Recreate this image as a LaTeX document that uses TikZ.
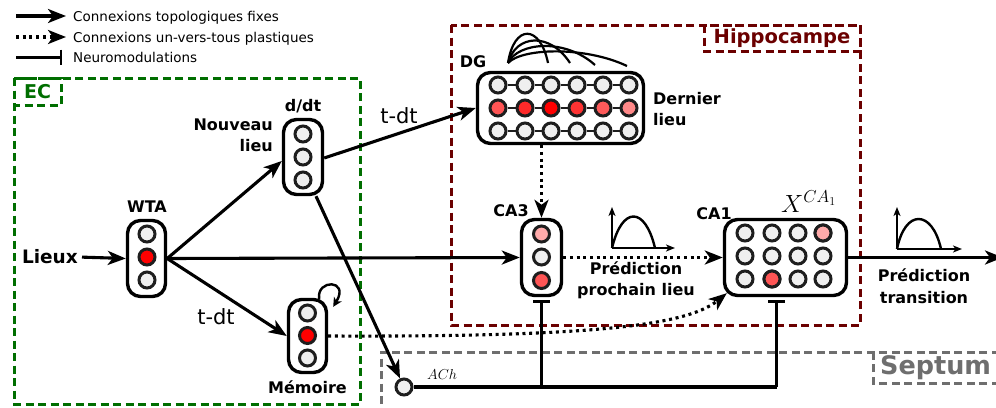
\documentclass[tikz,border=0pt]{standalone}
\usepackage{fontspec}
\setmainfont{DejaVu Sans}
\usetikzlibrary{arrows.meta,calc}
\definecolor{cgray}{HTML}{EFEFEF}
\definecolor{cedge}{HTML}{1E1E1E}
\definecolor{hipred}{HTML}{6B0000}
\definecolor{ecgreen}{HTML}{006E00}
\definecolor{septgray}{HTML}{6E6E6E}
\definecolor{rA}{HTML}{FF5555}
\definecolor{rB}{HTML}{FF2A2A}
\definecolor{rC}{HTML}{FF0000}
\definecolor{rD}{HTML}{FF3333}
\definecolor{rE}{HTML}{FF5A5A}
\definecolor{rF}{HTML}{FF8888}
\definecolor{pinkc}{HTML}{FFAAAA}
\tikzset{
  cell/.style={circle, draw=cedge, line width=3pt, fill=cgray, minimum size=16pt, inner sep=0pt},
  layer/.style={draw=black, line width=3.4pt, rounded corners=13pt, fill=white, inner sep=0pt},
  conn/.style={line width=3.1pt, -{Stealth[length=18pt,width=14pt,inset=5pt]}},
  plast/.style={line width=3.1pt, dash pattern=on 3pt off 3.7pt, -{Stealth[length=18pt,width=14pt,inset=5pt]}},
  modl/.style={line width=3.1pt, -{Bar[width=17pt,line width=3pt]}},
  plain/.style={line width=3.1pt},
  lab/.style={font=\fontsize{16}{21.5}\selectfont\bfseries, inner sep=0pt},
  legtxt/.style={font=\fontsize{13.5}{16}\selectfont, inner sep=0pt, anchor=base west},
  tdt/.style={font=\fontsize{21}{24}\selectfont, inner sep=0pt},
  regbox/.style={line width=3pt, dash pattern=on 8pt off 4.5pt},
  axisln/.style={line width=2.2pt, -{Stealth[length=9pt,width=7pt,inset=2.5pt]}},
  bump/.style={line width=2.4pt},
  dgarc/.style={line width=2.2pt},
}
\begin{document}
\begin{tikzpicture}[x=1pt,y=-1pt]
\useasboundingbox (0,0) rectangle (996,407);

% ---------- legend ----------
\coordinate (la1) at (16,16);  \coordinate (lb1) at (66,16);
\coordinate (la2) at (16,37);  \coordinate (lb2) at (66,37);
\coordinate (la3) at (16,57);  \coordinate (lb3) at (62,57);
\draw[conn] (la1) -- (lb1);
\draw[plast] (la2) -- (lb2);
\draw[line width=3pt, -{Bar[width=15pt,line width=2pt]}] (la3) -- (lb3);
\node[legtxt] (lt1) at (73,21) {Connexions topologiques fixes};
\node[legtxt] (lt2) at (73,42) {Connexions un-vers-tous plastiques};
\node[legtxt] (lt3) at (73,62) {Neuromodulations};

% ---------- region boxes ----------
\draw[regbox, ecgreen] (14,78) rectangle (360,404);
\draw[regbox, ecgreen] (14,78) rectangle (61,105);
\node[font=\fontsize{19}{22}\selectfont\bfseries, text=ecgreen, inner sep=0pt] (eclab) at (37.5,92) {EC};

\draw[regbox, hipred] (451,25) rectangle (860,325);
\draw[regbox, hipred] (704,25) rectangle (860,51);
\node[font=\fontsize{19.5}{22}\selectfont\bfseries, text=hipred, inner sep=0pt] (hiplab) at (782,38) {Hippocampe};

\draw[regbox, septgray] (1012,352) -- (381,352) -- (381,412);
\draw[regbox, septgray] (1012,383) -- (873,383) -- (873,352);
\node[font=\fontsize{25.5}{28}\selectfont\bfseries, text=septgray, inner sep=0pt, anchor=west] (seplab) at (880,368) {Septum};

% ---------- layers ----------
\node[layer, minimum width=38pt, minimum height=76pt] (wta) at (146.5,258.5) {};
\node[cell] (w1) at (147,234) {};
\node[cell, fill=rC] (w2) at (147,257) {};
\node[cell] (w3) at (147,280) {};

\node[layer, minimum width=39pt, minimum height=75pt] (ddt) at (303,157) {};
\node[cell] (d1) at (303,134) {};
\node[cell] (d2) at (303,157) {};
\node[cell] (d3) at (303,180) {};

\node[layer, minimum width=38pt, minimum height=73pt] (mem) at (307.5,336) {};
\node[cell] (m1) at (307.5,313) {};
\node[cell, fill=rC] (m2) at (307.5,335.5) {};
\node[cell] (m3) at (307.5,358) {};

\node[layer, minimum width=40pt, minimum height=76pt] (ca3) at (541.5,257.5) {};
\node[cell, fill=pinkc] (c31) at (541.5,234) {};
\node[cell] (c32) at (541.5,257) {};
\node[cell, fill=rA] (c33) at (541.5,280.5) {};

\node[layer, minimum width=122pt, minimum height=76pt] (ca1) at (785.5,257.5) {};
\foreach \x [count=\i] in {745,772,798,823} {
  \node[cell] (ca1a\i) at (\x,233) {};
  \node[cell] (ca1b\i) at (\x,256) {};
  \node[cell] (ca1c\i) at (\x,279) {};
}
\node[cell, fill=pinkc] at (ca1a4) {};
\node[cell, fill=rA] at (ca1c2) {};

\node[layer, minimum width=166pt, minimum height=71pt] (dg) at (560.5,108) {};
\foreach \x/\c [count=\i] in {498/rA,525/rB,551/rC,577/rD,603/rE,629/rF} {
  \node[cell] (dga\i) at (\x,85) {};
  \node[cell, fill=\c] (dgb\i) at (\x,108) {};
  \node[cell] (dgc\i) at (\x,131) {};
}
\foreach \i [evaluate=\i as \j using int(\i+1)] in {1,...,5} {
  \draw[line width=1.4pt, cedge] (dga\i) -- (dga\j);
  \draw[line width=1.4pt, cedge] (dgb\i) -- (dgb\j);
  \draw[line width=1.4pt, cedge] (dgc\i) -- (dgc\j);
}
% DG recurrent arcs
\coordinate (dgs) at (508,63);
\coordinate (dge1) at (548,63);
\coordinate (dge2) at (570,63);
\coordinate (dge3) at (595,65);
\coordinate (dge4) at (627,66);
\draw[dgarc] (dgs) .. controls (514,24) and (540,24) .. (dge1);
\draw[dgarc] (dgs) .. controls (516,34) and (550,32) .. (dge2);
\draw[dgarc] (dgs) .. controls (518,42) and (565,38) .. (dge3);
\draw[dgarc] (dgs) .. controls (522,48) and (585,46) .. (dge4);

\node[cell] (ach) at (404,387) {};

% ---------- labels ----------
\node[lab] (wtal) at (147,207) {WTA};
\node[lab] (ddtl) at (303,106) {d/dt};
\node[lab, align=right, anchor=east] (nouv) at (273,135.5) {Nouveau\\lieu};
\node[lab] (meml) at (307.5,387) {Mémoire};
\node[lab] (dgl) at (473,62) {DG};
\node[lab, align=left, anchor=west] (dern) at (653,109) {Dernier\\lieu};
\node[lab] (ca3l) at (511,211) {CA3};
\node[lab] (ca1l) at (714,214) {CA1};
\node[inner sep=0pt, anchor=base west, font=\fontsize{24}{26}\selectfont] (xca) at (781,212) {$X^{CA_1}$};
\node[lab, align=center] (predl) at (636,280.5) {Prédiction\\prochain lieu};
\node[lab, align=center] (predt) at (924,286) {Prédiction\\transition};
\node[font=\fontsize{18.5}{20}\selectfont\bfseries, inner sep=0pt, anchor=east] (lieux) at (78,257) {Lieux};
\node[tdt] (tdt1) at (399,116) {t-dt};
\node[tdt] (tdt2) at (216,317) {t-dt};
\node[inner sep=0pt, anchor=base west, font=\fontsize{15}{17}\selectfont] (achl) at (427,379) {$ACh$};

% ---------- connectors ----------
\draw[conn, shorten <=4pt] (lieux.east) -- (wta.west);
\draw[conn] (wta.east) -- ($(ddt.west)+(0,4)$);
\draw[conn] (wta.east) -- (mem.west);
\draw[conn] (wta.east) -- (ca3.west);
\draw[conn] ($(ddt.east)+(0,1)$) -- (dg.west);
\draw[conn] ($(ddt.south)+(13,0)$) -- (ach);
\draw[plast] (ca3.north |- dg.south) -- (ca3.north);
\draw[plast] (ca3.east) -- (ca1.west);
\draw[plast] (mem.east) .. controls (580,337) and (685,327) .. ($(ca1.south west)+(4,-4)$);
\coordinate (outp) at (1003,257.5);
\draw[conn] (ca1.east) -- (outp);
% self loop on memory
\draw[line width=2.4pt, -{Stealth[length=9pt,width=9pt,inset=2.5pt]}]
  ($(mem.north east)+(-9,1)$) .. controls (316,279) and (350,279) .. ($(mem.north east)+(5,9)$);

% neuromodulation
\coordinate (ca1m) at ($(ca1.south)+(-9,0)$);
\draw[plain] (ach) -- (ca1m |- ach);
\draw[modl, shorten >=3pt] (ca3.south |- ach) -- (ca3.south);
\draw[modl, shorten >=3pt] (ca1m |- ach) -- (ca1m);

% ---------- activity curves ----------
\coordinate (g1o) at (612,248);
\draw[axisln] (g1o) -- (612,207);
\draw[axisln] (g1o) -- (675,248);
\draw[bump] (g1o) .. controls (622,206) and (645,206) .. (655,248);
\coordinate (g2o) at (897,249);
\draw[axisln] (g2o) -- (897,207);
\draw[axisln] (g2o) -- (962,249);
\draw[bump] (g2o) .. controls (905,209) and (932,209) .. (941,249);
\end{tikzpicture}
\end{document}
